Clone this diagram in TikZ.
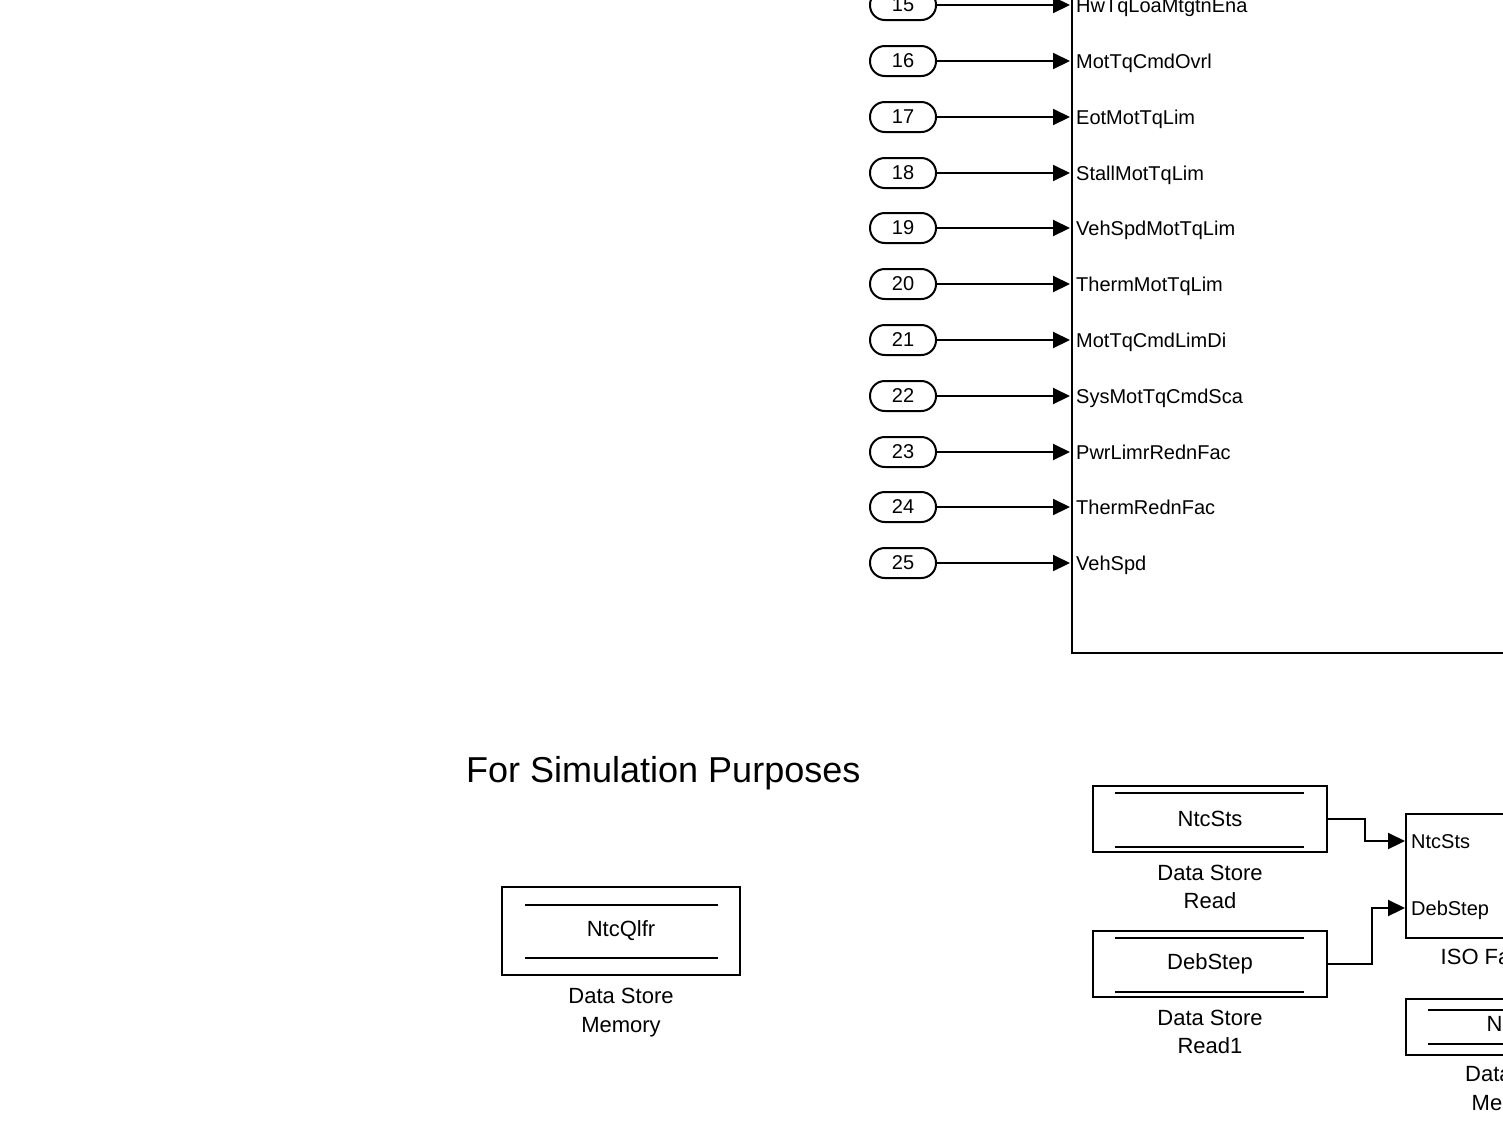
\documentclass[tikz,border=0pt]{standalone}
\usepackage{fontspec}
\setmainfont{Liberation Sans}
\usetikzlibrary{arrows.meta}
\begin{document}
\begin{tikzpicture}[x=1pt,y=-1pt,
  wire/.style={line width=2pt,-{Triangle[length=17pt,width=16pt]}},
  plain/.style={line width=2pt},
  port/.style={draw,line width=2pt,rounded corners=14.75pt,minimum width=66pt,minimum height=30pt,inner sep=0pt,font=\fontsize{20}{24}\selectfont},
  plab/.style={anchor=base west,inner sep=0pt,font=\fontsize{20}{24}\selectfont},
  blk/.style={draw,line width=2pt,inner sep=0pt},
  caplab/.style={anchor=base,inner sep=0pt,font=\fontsize{22}{26}\selectfont},
  dsbox/.style={draw,line width=2pt,inner sep=0pt,font=\fontsize{22}{26}\selectfont}
]
\useasboundingbox (0,0) rectangle (1503,1128);
\clip (0,0) rectangle (1503,1128);

% main subsystem block (partly outside the view)
\node[blk,anchor=south west,minimum width=700pt,minimum height=760pt] (main) at (1071,654) {};

% inports 15..25
\foreach \n/\t in {15/HwTqLoaMtgtnEna,16/MotTqCmdOvrl,17/EotMotTqLim,18/StallMotTqLim,
  19/VehSpdMotTqLim,20/ThermMotTqLim,21/MotTqCmdLimDi,22/SysMotTqCmdSca,
  23/PwrLimrRednFac,24/ThermRednFac,25/VehSpd}{
  \pgfmathsetmacro{\yy}{round(61+(\n-16)*55.8)}
  \node[port] (p\n) at (903,\yy) {\n};
  \coordinate (i\n) at (1070,\yy);
  \draw[wire] (p\n) -- (i\n);
  \node[plab] (l\n) at (1076,\yy+7) {\t};
}

% title
\node[anchor=base west,inner sep=0pt,font=\fontsize{36}{40}\selectfont] (title) at (466,782) {For Simulation Purposes};

% Data Store Memory (left)
\node[dsbox,minimum width=238pt,minimum height=88pt] (dsm) at (621,931) {NtcQlfr};
\draw[plain] (525,905) -- (718,905);
\draw[plain] (525,958) -- (718,958);
\node[caplab] (dsmc1) at (621,1003) {Data Store};
\node[caplab] (dsmc2) at (621,1032) {Memory};

% Data Store Read
\node[dsbox,minimum width=234pt,minimum height=66pt] (dsr) at (1210,819) {NtcSts};
\draw[plain] (1115,793) -- (1304,793);
\draw[plain] (1115,847) -- (1304,847);
\node[caplab] (dsrc1) at (1210,880) {Data Store};
\node[caplab] (dsrc2) at (1210,908) {Read};

% Data Store Read1
\node[dsbox,minimum width=234pt,minimum height=66pt] (dsr1) at (1210,964) {DebStep};
\draw[plain] (1115,938) -- (1304,938);
\draw[plain] (1115,992) -- (1304,992);
\node[caplab] (dsr1c1) at (1210,1025) {Data Store};
\node[caplab] (dsr1c2) at (1210,1053) {Read1};

% ISO block (partly outside the view)
\node[blk,anchor=north west,minimum width=300pt,minimum height=124pt] (iso) at (1405,813) {};
\coordinate (isoA) at (1405,841);
\coordinate (isoB) at (1405,908);
\node[plab] (isoAl) at (1411,848) {NtcSts};
\node[plab] (isoBl) at (1411,915) {DebStep};
\node[anchor=base west,inner sep=0pt,font=\fontsize{22}{26}\selectfont] (isoc) at (1440.5,964.3) {ISO Fa};

\draw[wire] (dsr.east) -| (1365,841) -- (isoA);
\draw[wire] (dsr1.east) -| (1372,908) -- (isoB);

% Data Store Memory (right, partly outside the view)
\node[blk,anchor=north west,minimum width=238pt,minimum height=56pt] (dsm2) at (1405,998) {};
\draw[plain] (1428,1010) -- (1520,1010);
\draw[plain] (1428,1044) -- (1520,1044);
\node[anchor=base west,inner sep=0pt,font=\fontsize{22}{26}\selectfont] (dsm2t) at (1486.5,1031.7) {N};
\node[anchor=base west,inner sep=0pt,font=\fontsize{22}{26}\selectfont] (dsm2c1) at (1465,1081) {Data};
\node[anchor=base west,inner sep=0pt,font=\fontsize{22}{26}\selectfont] (dsm2c2) at (1471.5,1110) {Me};
\end{tikzpicture}
\end{document}
